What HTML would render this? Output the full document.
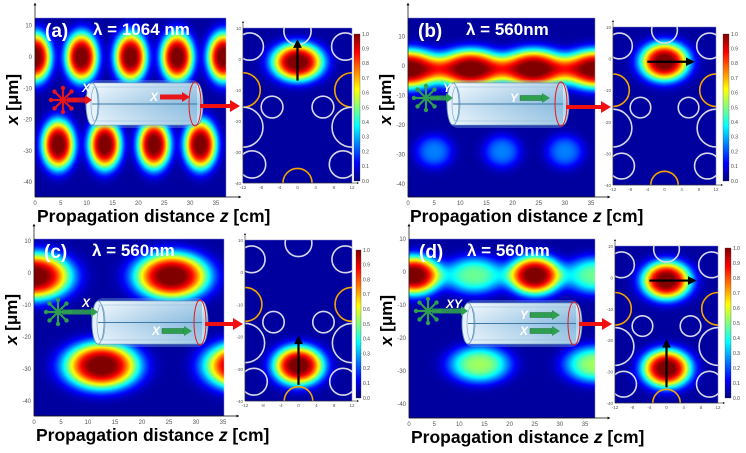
<!DOCTYPE html>
<html><head><meta charset="utf-8">
<style>
html,body{margin:0;padding:0;background:#fff;}
#wrap{position:relative;width:746px;height:453px;overflow:hidden;font-family:"Liberation Sans",sans-serif;}
canvas,svg{position:absolute;left:0;top:0;}
</style></head>
<body>
<div id="wrap">
<canvas id="cv" width="746" height="453"></canvas>
<svg id="sv" width="746" height="453" xmlns="http://www.w3.org/2000/svg">
<defs>
<linearGradient id="cyl" x1="0" y1="0" x2="0" y2="1">
<stop offset="0" stop-color="#eef7fd"/><stop offset="0.5" stop-color="#a9d0ec"/><stop offset="1" stop-color="#d7ebf8"/></linearGradient>
<linearGradient id="cylh" x1="0" y1="0" x2="1" y2="0">
<stop offset="0" stop-color="#fff" stop-opacity="0.5"/><stop offset="1" stop-color="#5a9ccc" stop-opacity="0.4"/></linearGradient>
<linearGradient id="jetbar" x1="0" y1="1" x2="0" y2="0">
<stop offset="0" stop-color="#000080"/><stop offset="0.125" stop-color="#0000ff"/><stop offset="0.375" stop-color="#00ffff"/><stop offset="0.625" stop-color="#ffff00"/><stop offset="0.875" stop-color="#ff0000"/><stop offset="1" stop-color="#800000"/></linearGradient>
<marker id="ah" markerWidth="4" markerHeight="4" refX="2" refY="2" orient="auto"><path d="M0,0L4,2L0,4z" fill="#000"/></marker>
</defs>
</svg>
</div>
<script>
// ---- data: main propagation maps (z in cm, x in µm, peak intensity, widths) ----
const aZ=[0,9,18.5,27.5,36.5,4.5,13.5,23,32];
const aX=[0,0,0,0,0,-28,-28,-28,-28];
const aI=[1,1,1,1,1,1,1,1,1];
const aSz=[3.1,3.1,3.1,3.1,3.1,3.1,3.1,3.1,3.1];
const aSx=[7.8,7.8,7.8,7.8,7.8,7.8,7.8,7.8,7.8];
const bZ=[0,12,24,36,5,18,30];
const bX=[-1,-1,-1,-1,-29,-29,-29];
const bI=[1,1,1,1,0.22,0.22,0.22];
const bSz=[6.3,6.3,6.3,6.3,3.5,3.5,3.5];
const bSx=[6.5,6.5,6.5,6.5,5.5,5.5,5.5];
const cZ=[0,25.5,12.5,38.5];
const cX=[-1,-1,-29,-29];
const cI=[1,1,1,1];
const cSz=[6.8,6.8,6.8,6.8];
const cSx=[7.2,7.2,7.2,7.2];
const dZ=[1,25,13,37,14,37];
const dX=[-1,-1,-1,-1,-28,-28];
const dI=[1,1,0.45,0.45,0.5,0.5];
const dSz=[5.2,5.2,6,6,6,6];
const dSx=[5.8,5.8,5.5,5.5,5.5,5.5];
// ---- data: output cross-section insets (x,y in µm) ----
const inAX=[0],inAY=[-1],inAI=[1];
const inBX=[0],inBY=[-1],inBI=[1];
const inCX=[0],inCY=[-29],inCI=[1];
const inDX=[0,0],inDY=[-1,-29],inDI=[1,1];
const inSx=5.6, inSy=6;
// fiber cladding holes (µm)
const holeX=[0,-10.5,10.5,-12,12,-5.6,5.6,-12,12,-10,10,0];
const holeY=[9,4,4,-10,-10,-15.5,-15.5,-22,-22,-34,-34,-40];
const holeR=[3,3,3,3.8,3.8,2.4,2.4,4.4,4.4,3,3,3.2];
const holeOrange=[0,0,0,1,1,0,0,0,0,0,0,1];
const zTicks=[0,5,10,15,20,25,30,35];
const xTicks=[10,0,-10,-20,-30,-40];
const insetXTicks=[-12,-8,-4,0,4,8,12];
const insetYTicks=[10,0,-10,-20,-30,-40];
const cbTicks=[0,0.1,0.2,0.3,0.4,0.5,0.6,0.7,0.8,0.9,1.0];

const panels=[
 {id:'a',lab:'(a)',lam:'λ = 1064 nm',Z:aZ,X:aX,I:aI,Sz:aSz,Sx:aSx,iX:inAX,iY:inAY,iI:inAI,
  m:{x0:35,x1:226,y0:18,y1:197,zp:35,zs:5.17,xp:57,xs:3.13},
  ins:{x0:243,x1:352,y0:28,y1:183},cb:{x0:354,x1:360,y0:34,y1:181},
  cyl:{x0:92,x1:197,y0:83,y1:125},col:'#e8161b',pol:[63,100],inLab:'X',inLabPos:[82,92],
  arrows:[['X',150,97]],outArrow:[200,106,240],black:[[0,-7,0,5]]},
 {id:'b',lab:'(b)',lam:'λ = 560nm',Z:bZ,X:bX,I:bI,Sz:bSz,Sx:bSx,iX:inBX,iY:inBY,iI:inBI,
  m:{x0:408,x1:595,y0:18,y1:197,zp:408,zs:5.23,xp:66,xs:2.95},
  ins:{x0:613,x1:716,y0:27,y1:185},cb:{x0:723,x1:729,y0:34,y1:181},
  cyl:{x0:453,x1:563,y0:83,y1:125},col:'#2e9e4f',pol:[426,98],inLab:'Y',inLabPos:[443,92],
  arrows:[['Y',510,98]],outArrow:[566,107,611],black:[[-4,-1,6,-1]]},
 {id:'c',lab:'(c)',lam:'λ = 560nm',Z:cZ,X:cX,I:cI,Sz:cSz,Sx:cSx,iX:inCX,iY:inCY,iI:inCI,
  m:{x0:34,x1:224,y0:239,y1:416,zp:34,zs:5.4,xp:273,xs:3.2},
  ins:{x0:245,x1:352,y0:240,y1:401},cb:{x0:356,x1:361,y0:250,y1:398},
  cyl:{x0:98,x1:202,y0:301,y1:344},col:'#2e9e4f',pol:[58,312],inLab:'X',inLabPos:[82,307],
  arrows:[['X',152,331]],outArrow:[205,324,243],black:[[0,-35,0,-21]]},
 {id:'d',lab:'(d)',lam:'λ = 560nm',Z:dZ,X:dX,I:dI,Sz:dSz,Sx:dSx,iX:inDX,iY:inDY,iI:inDI,
  m:{x0:409,x1:595,y0:239,y1:418,zp:409,zs:5.03,xp:272,xs:3.3},
  ins:{x0:615,x1:718,y0:246,y1:403},cb:{x0:725,x1:731,y0:248,y1:398},
  cyl:{x0:468,x1:576,y0:303,y1:344},col:'#2e9e4f',pol:[428,311],inLab:'XY',inLabPos:[446,308],
  arrows:[['Y',520,315],['X',520,331]],outArrow:[579,324,612],black:[[-4,-1,6,-1],[0,-35,0,-21]]}
];

function cl(v){return Math.max(0,Math.min(1,v));}
function jet(v){v=cl(v+0.03);return [cl(1.5-Math.abs(4*v-3))*255,cl(1.5-Math.abs(4*v-2))*255,cl(1.5-Math.abs(4*v-1))*255];}
function prof(r2){return Math.exp(-Math.pow(r2,1.5));}

const cv=document.getElementById('cv');const ctx=cv.getContext('2d');
function fillMap(x0,y0,x1,y1,fn){
  const w=x1-x0,h=y1-y0;const img=ctx.createImageData(w,h);
  for(let j=0;j<h;j++)for(let i=0;i<w;i++){
    const c=jet(fn(x0+i+0.5,y0+j+0.5));const k=(j*w+i)*4;
    img.data[k]=c[0];img.data[k+1]=c[1];img.data[k+2]=c[2];img.data[k+3]=255;}
  ctx.putImageData(img,x0,y0);
}
const NS='http://www.w3.org/2000/svg';const sv=document.getElementById('sv');
function el(tag,attrs,parent,txt){const e=document.createElementNS(NS,tag);for(const k in attrs)e.setAttribute(k,attrs[k]);if(txt!==undefined)e.textContent=txt;(parent||sv).appendChild(e);return e;}

panels.forEach(p=>{
  const m=p.m;
  const zPx=z=>m.zp+z*m.zs, xPx=x=>m.xp-x*m.xs;
  const g=el('g',{});
  
  
  fillMap(m.x0,m.y0,m.x1,m.y1,(px,py)=>{
    const z=(px-m.zp)/m.zs,x=(m.xp-py)/m.xs;let s=0;
    for(let k=0;k<p.Z.length;k++){const dz=(z-p.Z[k])/p.Sz[k],dx=(x-p.X[k])/p.Sx[k];s+=p.I[k]*prof(dz*dz+dx*dx);}
    return s;});
  el('line',{x1:m.x0,y1:m.y1,x2:m.x0,y2:m.y0-14,stroke:'#000','stroke-width':0.7,'marker-end':'url(#ah)'},g);
  el('line',{x1:m.x0,y1:m.y1,x2:m.x1+14,y2:m.y1,stroke:'#000','stroke-width':0.7,'marker-end':'url(#ah)'},g);
  zTicks.forEach(t=>{const x=zPx(t);if(x<=m.x1+1){const e=el('text',{x:x,y:m.y1+8,'font-size':6,fill:'#555','text-anchor':'middle'},g,String(t));
    }});
  xTicks.forEach(t=>{const y=xPx(t);if(y>=m.y0&&y<=m.y1){const e=el('text',{x:m.x0-3,y:y+2,'font-size':6,fill:'#555','text-anchor':'end'},g,String(t));
    }});
  const xl=el('text',{x:m.x0+2,y:m.y1+25,'font-size':17.5,'font-weight':'bold',fill:'#000'},g);
  
  el('tspan',{},xl,'Propagation distance ');el('tspan',{'font-style':'italic'},xl,'z');el('tspan',{},xl,' [cm]');
  const yc=(m.y0+m.y1)/2-8;
  const yl=el('text',{x:20,y:yc,'font-size':17,'font-weight':'bold',fill:'#000','text-anchor':'middle',transform:`rotate(-90 ${m.x0-17} ${yc}) translate(${m.x0-37} 0)`},g);
  
  el('tspan',{'font-style':'italic'},yl,'x');el('tspan',{},yl,' [μm]');
  const pl=el('text',{x:m.x0+10,y:m.y0+19,'font-size':19,'font-weight':'bold',fill:'#fff'},g,p.lab);
  
  const lt=el('text',{x:m.x0+58,y:m.y0+17,'font-size':17,'font-weight':'bold',fill:'#fff'},g,p.lam);
  

  const n=p.ins;const ux=u=>n.x0+(u+12)/24*(n.x1-n.x0), uy=u=>n.y0+(10-u)/50*(n.y1-n.y0);
  const sx=(n.x1-n.x0)/24, sy=(n.y1-n.y0)/50;
  fillMap(n.x0,n.y0,n.x1,n.y1,(px,py)=>{
    const u=(px-n.x0)/sx-12,v=10-(py-n.y0)/sy;let s=0;
    for(let k=0;k<p.iX.length;k++){const du=(u-p.iX[k])/inSx,dv=(v-p.iY[k])/inSy;s+=p.iI[k]*prof(du*du+dv*dv);}
    return s;});
  const clipId='clip'+p.id;const cp=el('clipPath',{id:clipId},g);el('rect',{x:n.x0,y:n.y0,width:n.x1-n.x0,height:n.y1-n.y0},cp);
  const hg=el('g',{'clip-path':`url(#${clipId})`},g);
  holeX.forEach((hx,k)=>{const c=el('circle',{cx:ux(hx),cy:uy(holeY[k]),r:holeR[k]*sx,fill:'none',stroke:holeOrange[k]?'#f5a500':'#d8d8e8','stroke-width':1.6},hg);
    });
  p.black.forEach(a=>{const e=el('line',{x1:ux(a[0]),y1:uy(a[1]),x2:ux(a[2]),y2:uy(a[3]),stroke:'#000','stroke-width':2.2,'marker-end':'url(#ah)'},g);
    });
  el('line',{x1:n.x0,y1:n.y1,x2:n.x0,y2:n.y0-6,stroke:'#000','stroke-width':0.5,'marker-end':'url(#ah)'},g);
  el('line',{x1:n.x0,y1:n.y1,x2:n.x1+6,y2:n.y1,stroke:'#000','stroke-width':0.5,'marker-end':'url(#ah)'},g);
  insetXTicks.forEach(t=>{el('text',{x:ux(t),y:n.y1+6,'font-size':4.5,fill:'#555','text-anchor':'middle'},g,String(t));});
  insetYTicks.forEach(t=>{el('text',{x:n.x0-2,y:uy(t)+2,'font-size':4.5,fill:'#555','text-anchor':'end'},g,String(t));});
  const b=p.cb;const cb=el('rect',{x:b.x0,y:b.y0,width:b.x1-b.x0,height:b.y1-b.y0,fill:'url(#jetbar)',stroke:'#333','stroke-width':0.3},g);
  
  cbTicks.forEach(t=>{const y=b.y1-t*(b.y1-b.y0);el('text',{x:b.x1+2,y:y+1.8,'font-size':5,fill:'#444'},g,t.toFixed(1));});

  const c=p.cyl,cy=(c.y0+c.y1)/2,ry=(c.y1-c.y0)/2;
  const fg=el('g',{},g);
  el('rect',{x:c.x0-3,y:c.y0-3,width:c.x1-c.x0+6,height:c.y1-c.y0+6,rx:8,fill:'#7fb8e0',opacity:0.35},fg);
  el('path',{d:`M${c.x0},${c.y0}L${c.x1},${c.y0}A6,${ry} 0 0 1 ${c.x1},${c.y1}L${c.x0},${c.y1}A6,${ry} 0 0 1 ${c.x0},${c.y0}z`,fill:'url(#cyl)',stroke:'#5c8fb5','stroke-width':0.8},fg);
  el('rect',{x:c.x0,y:c.y0,width:c.x1-c.x0,height:c.y1-c.y0,fill:'url(#cylh)'},fg);
  el('ellipse',{cx:c.x0,cy:cy,rx:6,ry:ry,fill:'#e6f2fb',stroke:'#5c8fb5','stroke-width':0.8},fg);
  el('ellipse',{cx:c.x0+3,cy:cy,rx:4,ry:ry-4,fill:'none',stroke:'#6d9cc0','stroke-width':0.6},fg);
  el('line',{x1:c.x0,y1:cy,x2:c.x1,y2:cy,stroke:'#3e7aa5','stroke-width':0.9},fg);
  el('line',{x1:c.x0,y1:c.y0+4,x2:c.x1,y2:c.y0+4,stroke:'#8fb9d8','stroke-width':0.5},fg);
  el('line',{x1:c.x0,y1:c.y1-4,x2:c.x1,y2:c.y1-4,stroke:'#8fb9d8','stroke-width':0.5},fg);
  el('ellipse',{cx:c.x1-2,cy:cy,rx:6,ry:ry+1,fill:'none',stroke:'#e8161b','stroke-width':1},fg);
  p.arrows.forEach(a=>{el('text',{x:a[1],y:a[2]+4,'font-size':12,'font-weight':'bold','font-style':'italic',fill:'#fff'},fg,a[0]);
    el('rect',{x:a[1]+10,y:a[2]-2.5,width:22,height:5,fill:p.col,stroke:'#0b5e25','stroke-width':p.col=='#e8161b'?0:0.4},fg);
    el('path',{d:`M${a[1]+32},${a[2]-5}L${a[1]+40},${a[2]}L${a[1]+32},${a[2]+5}z`,fill:p.col},fg);});
  const [px,py]=p.pol;const sg=el('g',{},g);
  [0,45,90,135].forEach(ang=>{const r=ang*Math.PI/180,dx=Math.cos(r)*12,dy=Math.sin(r)*12;
    el('line',{x1:px-dx,y1:py-dy,x2:px+dx,y2:py+dy,stroke:p.col,'stroke-width':2.2},sg);
    el('circle',{cx:px+dx,cy:py+dy,r:2.2,fill:p.col},sg);el('circle',{cx:px-dx,cy:py-dy,r:2.2,fill:p.col},sg);});
  el('rect',{x:px+4,y:py-2.5,width:c.x0-px-10,height:5,fill:p.col,opacity:0.9},sg);
  el('path',{d:`M${c.x0-7},${py-5}L${c.x0},${py}L${c.x0-7},${py+5}z`,fill:p.col},sg);
  el('text',{x:p.inLabPos[0],y:p.inLabPos[1],'font-size':12,'font-weight':'bold','font-style':'italic',fill:'#fff'},sg,p.inLab);
  const o=p.outArrow;const oa=el('g',{},g);
  el('rect',{x:o[0],y:o[1]-2,width:o[2]-o[0]-9,height:4,fill:'#f01010'},oa);
  el('path',{d:`M${o[2]-10},${o[1]-6}L${o[2]},${o[1]}L${o[2]-10},${o[1]+6}z`,fill:'#f01010'},oa);
});
</script>
</body></html>
